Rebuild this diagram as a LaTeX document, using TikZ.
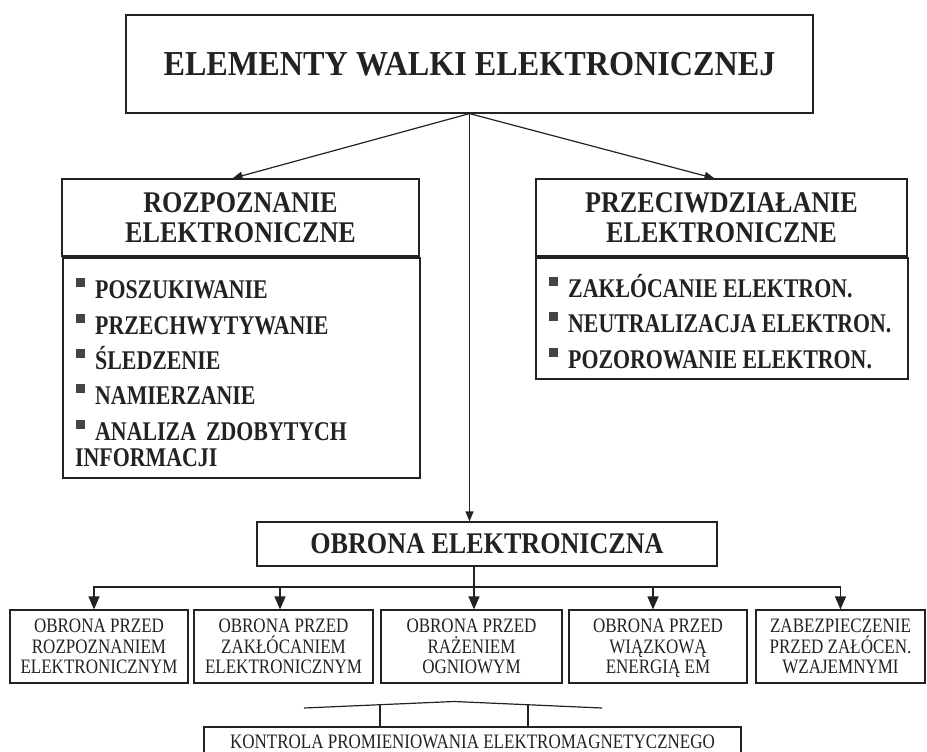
\documentclass[tikz,border=0pt]{standalone}
\usepackage{fontspec}
\setmainfont{Liberation Serif}
\newfontfamily\titlefont[FakeStretch=0.92]{Liberation Serif}
\newfontfamily\headfont[FakeStretch=0.87]{Liberation Serif}
\newfontfamily\itemfont[FakeStretch=0.81]{Liberation Serif}
\newfontfamily\smallfont[FakeStretch=0.83]{Liberation Serif}
\usetikzlibrary{arrows.meta}
\definecolor{ink}{HTML}{222222}
\definecolor{bulletgray}{HTML}{444444}
\newcommand{\blt}{\raisebox{11pt}{\textcolor{bulletgray}{\rule{9pt}{9pt}}}\hspace{10pt}}
\begin{document}
\begin{tikzpicture}[x=1pt,y=-1pt,
  box/.style={draw=ink, line width=1.2pt, inner sep=0pt, text=ink},
  hfont/.style={font=\headfont\bfseries\fontsize{30}{30}\selectfont},
  item/.style={inner sep=0pt, anchor=base west, text=ink, font=\itemfont\bfseries\fontsize{27}{26}\selectfont},
  bbox/.style={box, minimum height=73pt, align=center, font=\smallfont\fontsize{20.5}{20.5}\selectfont},
  conn/.style={draw=ink, line width=1.2pt},
  arr/.style={conn, -{Triangle[length=10pt,width=8pt]}},
  barr/.style={conn, -{Triangle[length=13pt,width=11pt]}}]
\useasboundingbox (0,0) rectangle (927,752);
\fill[white] (0,0) rectangle (927,752);

% top
\node[box, minimum width=687pt, minimum height=98pt,
      font=\titlefont\bfseries\fontsize{35}{40}\selectfont] (top) at (469.5,64) {ELEMENTY WALKI ELEKTRONICZNEJ};

% left branch
\node[box, hfont, minimum width=357pt, minimum height=77pt, align=center] (rh) at (240.5,217.5) {ROZPOZNANIE\\ELEKTRONICZNE};
\node[box, minimum width=357pt, minimum height=220pt] (rl) at (241.5,368) {};
\node[item] (r1) at (76,298) {\blt POSZUKIWANIE};
\node[item] (r2) at (76,334) {\blt PRZECHWYTYWANIE};
\node[item] (r3) at (76,369) {\blt ŚLEDZENIE};
\node[item] (r4) at (76,404) {\blt NAMIERZANIE};
\node[item] (r5) at (76,440) {\blt ANALIZA\hspace{10pt}ZDOBYTYCH};
\node[item] (r6) at (75,466) {INFORMACJI};

% right branch
\node[box, hfont, minimum width=371pt, minimum height=77pt, align=center] (ph) at (721.5,217.5) {PRZECIWDZIAŁANIE\\ELEKTRONICZNE};
\node[box, minimum width=372pt, minimum height=121pt] (pl) at (722,318.5) {};
\node[item] (p1) at (549,297) {\blt ZAKŁÓCANIE ELEKTRON.};
\node[item] (p2) at (549,332) {\blt NEUTRALIZACJA ELEKTRON.};
\node[item] (p3) at (549,368) {\blt POZOROWANIE ELEKTRON.};

% defence
\node[box, hfont, minimum width=460pt, minimum height=44pt] (obr) at (487,544) {OBRONA ELEKTRONICZNA};

\node[bbox, minimum width=178pt] (b1) at (99,646.5) {OBRONA PRZED\\ROZPOZNANIEM\\ELEKTRONICZNYM};
\node[bbox, minimum width=179pt] (b2) at (283.5,646.5) {OBRONA PRZED\\ZAKŁÓCANIEM\\ELEKTRONICZNYM};
\node[bbox, minimum width=181pt] (b3) at (471.5,646.5) {OBRONA PRZED\\RAŻENIEM\\OGNIOWYM};
\node[bbox, minimum width=178pt] (b4) at (658,646.5) {OBRONA PRZED\\WIĄZKOWĄ\\ENERGI\smash{Ą} EM};
\node[bbox, minimum width=169pt] (b5) at (840.5,646.5) {ZABEZPIECZENIE\\PRZED ZAŁÓCEN.\\WZAJEMNYMI};

% bottom
\node[inner sep=0pt, anchor=base, text=ink, font=\smallfont\fontsize{20.5}{20.5}\selectfont] (kpe) at (472.5,748) {KONTROLA PROMIENIOWANIA ELEKTROMAGNETYCZNEGO};
\draw[conn] (204,752) |- (741,727) -- (741,752);
\coordinate (kl) at (380,727);
\coordinate (kr) at (528,727);
\coordinate (bl) at (304,708);
\coordinate (bp) at (454,701.5);
\coordinate (br) at (602,708);
\draw[conn] (bl) -- (bp) -- (br);
\draw[conn] (kl) -- (380,704.5);
\draw[conn] (kr) -- (528,704.5);

% connectors
\draw[arr] (top.south) -- ([xshift=-8pt]rh.north);
\draw[arr] (top.south) -- ([xshift=-7pt]ph.north);
\draw[arr] (top.south) -- (top.south |- obr.north);

\coordinate (j) at (474,587);
\draw[barr] (j |- obr.south) -- (j |- b3.north);
\draw[barr] (j) -| ([xshift=-5pt]b1.north);
\draw[barr] (j) -| ([xshift=-3.5pt]b2.north);
\draw[barr] (j) -| ([xshift=-5pt]b4.north);
\draw[barr] (j) -| (b5.north);
\end{tikzpicture}
\end{document}
